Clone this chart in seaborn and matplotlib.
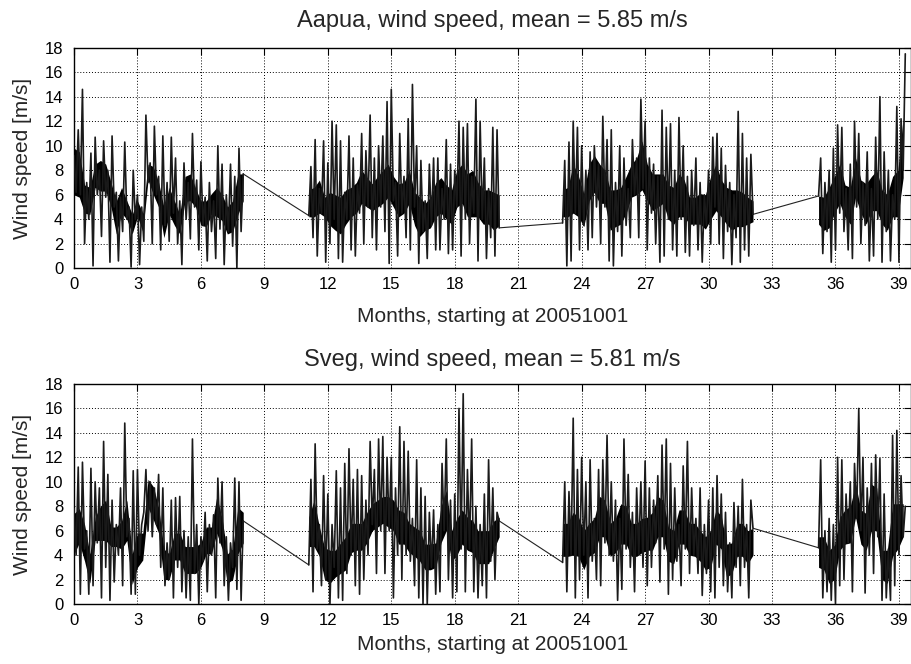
import numpy as np
import pandas as pd
import matplotlib
matplotlib.use("Agg")
import matplotlib.pyplot as plt
import seaborn as sns

# ---------------- data ----------------
STEP = 0.1        # months between samples of the spiky trace
CORE_STEP = 0.25  # months between samples of the dense core band

aapua_title = "Aapua, wind speed, mean = 5.85 m/s"
sveg_title = "Sveg, wind speed, mean = 5.81 m/s"
x_label = "Months, starting at 20051001"
y_label = "Wind speed [m/s]"
x_ticks = list(range(0, 40, 3))
y_ticks = list(range(0, 19, 2))

# segment start months (data gaps in between are joined by straight lines)
aapua_starts = [0.0, 11.1, 23.1, 35.2]
sveg_starts = [0.0, 11.1, 23.1, 35.2]

# ---- Aapua: spiky trace ----
aapua_seg1 = [9.2, 6.2, 11.3, 6.0, 14.6, 2.0, 7.0, 4.0, 9.4, 0.2,
              10.7, 6.0, 8.0, 2.6, 10.4, 5.8, 8.0, 0.5, 10.8, 5.0,
              6.2, 0.6, 5.8, 3.0, 10.3, 4.0, 5.0, 0.1, 8.0, 4.0,
              6.0, 0.3, 5.0, 2.2, 12.5, 7.0, 8.6, 2.0, 11.6, 6.0,
              7.5, 1.5, 10.8, 3.5, 7.0, 2.2, 10.7, 4.5, 9.0, 2.0,
              5.5, 0.3, 8.6, 4.0, 7.0, 2.4, 11.0, 5.0, 7.2, 1.5,
              8.7, 3.5, 5.8, 0.6, 7.0, 3.0, 5.5, 0.8, 10.0, 3.2,
              8.5, 0.3, 6.0, 3.0, 8.5, 1.8, 7.5, 0.0, 9.8, 3.0,
              7.7]
aapua_seg2 = [4.3, 8.3, 2.5, 10.5, 1.0, 6.5, 4.5, 10.4, 0.5, 8.6,
              2.0, 12.0, 4.0, 11.7, 0.8, 10.4, 0.5, 6.2, 4.0, 10.8,
              1.5, 9.0, 1.0, 6.8, 4.5, 11.0, 2.0, 9.6, 5.0, 12.5,
              2.5, 9.0, 1.5, 10.0, 5.0, 10.8, 3.0, 13.6, 0.4, 14.6,
              5.5, 7.0, 1.0, 11.0, 4.5, 7.5, 2.5, 12.2, 1.5, 15.0,
              5.0, 10.0, 0.4, 8.8, 3.0, 5.5, 0.8, 8.5, 3.5, 9.0,
              1.5, 9.0, 1.5, 6.5, 4.0, 10.5, 1.2, 8.5, 1.5, 8.0,
              5.0, 12.0, 1.0, 11.5, 4.0, 11.8, 2.0, 7.5, 4.5, 13.8,
              0.6, 12.0, 4.0, 9.0, 0.8, 6.5, 2.5, 11.5, 1.0, 11.3,
              3.3]
aapua_seg3 = [3.7, 8.8, 0.2, 10.3, 0.6, 12.0, 4.5, 11.5, 1.5, 10.0,
              3.5, 8.0, 1.5, 9.5, 2.5, 10.0, 5.0, 8.5, 2.0, 12.4,
              5.0, 10.5, 0.6, 11.3, 0.2, 7.0, 3.0, 10.0, 1.0, 9.0,
              3.5, 6.5, 2.5, 10.5, 6.0, 9.0, 2.5, 13.8, 6.5, 12.0,
              1.5, 9.0, 4.5, 8.5, 2.0, 7.5, 0.5, 12.9, 1.0, 11.5,
              4.0, 11.8, 1.5, 8.0, 1.0, 12.3, 4.0, 10.0, 1.3, 7.5,
              1.0, 8.0, 3.5, 9.0, 1.5, 7.0, 0.5, 6.0, 3.5, 8.0,
              2.0, 10.7, 5.0, 11.0, 2.0, 9.8, 0.8, 8.4, 3.0, 7.0,
              0.3, 6.0, 2.5, 12.8, 0.5, 11.0, 1.5, 9.0, 1.0, 9.3,
              4.4]
aapua_seg4 = [5.9, 9.0, 1.2, 7.0, 3.0, 8.0, 0.5, 9.8, 1.5, 11.7,
              4.5, 11.5, 3.0, 6.5, 1.5, 8.5, 0.8, 12.0, 5.0, 11.0,
              2.0, 7.0, 3.5, 9.5, 0.6, 6.5, 1.0, 10.7, 4.0, 14.0,
              0.5, 9.5, 3.0, 8.0, 0.6, 6.0, 4.0, 13.2, 0.5, 12.2,
              8.0, 17.5]

# ---- Aapua: dense core band (lower / upper edge) ----
aapua_core_lo = [
    [6.0, 5.8, 4.5, 4.4, 6.6, 6.3, 6.3, 5.0, 2.8, 4.5, 4.0, 2.8, 4.2, 3.0,
     7.2, 6.0, 5.0, 2.5, 4.4, 3.5, 2.8, 5.5, 5.5, 5.0, 3.5, 3.4, 4.4, 4.2,
     3.9, 2.8, 3.0, 4.4, 5.5],
    [4.2, 4.2, 4.5, 4.2, 3.5, 3.1, 2.8, 3.6, 4.2, 4.5, 5.3, 5.0, 4.7, 5.0,
     5.3, 5.8, 5.0, 4.2, 4.5, 5.3, 3.5, 2.6, 3.1, 3.3, 4.2, 4.5, 4.0, 3.6,
     5.0, 5.3, 4.2, 4.2, 4.2, 3.6, 3.6, 3.1, 3.5],
    [4.2, 4.2, 4.5, 4.2, 3.4, 5.5, 6.2, 5.3, 5.3, 3.1, 3.4, 3.6, 4.5, 5.8,
     6.0, 6.4, 5.5, 4.7, 5.0, 5.3, 4.0, 3.6, 4.2, 4.2, 3.6, 3.6, 3.6, 3.2,
     4.0, 4.7, 4.2, 3.6, 3.1, 3.4, 3.4, 3.6, 3.8],
    [3.6, 3.1, 3.3, 4.5, 5.3, 4.2, 3.6, 5.8, 4.5, 3.6, 4.7, 4.7, 3.6, 3.1,
     4.2, 4.2, 7.4],
]
aapua_core_hi = [
    [9.8, 9.5, 6.8, 6.6, 8.5, 8.8, 8.5, 7.0, 5.5, 6.6, 5.5, 4.4, 5.5, 4.5,
     8.5, 8.3, 7.0, 5.0, 6.6, 5.5, 4.4, 7.5, 7.7, 6.5, 5.5, 5.5, 6.1, 6.6,
     6.0, 5.0, 5.5, 7.7, 7.7],
    [6.4, 6.6, 7.2, 5.8, 6.2, 6.0, 5.8, 6.4, 6.6, 7.0, 8.0, 7.4, 6.9, 7.5,
     8.0, 8.5, 7.5, 6.9, 7.0, 8.0, 6.2, 5.8, 5.3, 5.8, 7.0, 7.4, 6.8, 6.4,
     8.0, 8.5, 7.7, 8.0, 7.0, 6.4, 6.4, 6.2, 6.0],
    [6.4, 6.6, 8.5, 7.5, 6.1, 8.5, 9.2, 8.5, 8.0, 6.4, 6.4, 6.6, 7.5, 8.5,
     9.0, 10.4, 8.5, 7.7, 7.7, 7.7, 6.8, 6.6, 7.7, 7.2, 5.8, 5.8, 6.1, 6.0,
     7.5, 8.5, 7.2, 6.6, 6.4, 6.4, 6.2, 5.8, 5.5],
    [5.9, 5.8, 6.6, 7.5, 8.5, 6.8, 6.6, 9.0, 7.2, 6.9, 7.5, 8.0, 6.4, 6.0,
     7.5, 8.0, 12.3],
]

# ---- Sveg: spiky trace ----
sveg_seg1 = [7.8, 4.0, 11.2, 0.8, 11.6, 4.5, 6.0, 0.8, 11.1, 1.5,
             10.0, 5.0, 9.5, 0.5, 13.3, 3.0, 10.6, 0.3, 8.5, 1.8,
             6.5, 4.0, 9.5, 1.5, 14.8, 5.5, 7.0, 0.8, 10.9, 0.8,
             11.0, 4.0, 6.5, 7.5, 11.0, 6.0, 10.0, 5.5, 9.5, 6.5,
             10.6, 3.0, 9.5, 1.5, 5.0, 2.0, 8.5, 0.5, 8.7, 3.0,
             8.8, 1.0, 6.0, 0.5, 5.5, 0.3, 13.5, 2.5, 6.5, 0.0,
             5.5, 3.5, 7.5, 1.0, 6.5, 4.0, 7.3, 0.5, 10.3, 5.0,
             10.0, 1.5, 5.5, 0.3, 5.0, 3.0, 10.3, 1.2, 10.0, 0.3,
             6.8]
sveg_seg2 = [3.2, 10.2, 1.0, 13.1, 4.5, 6.5, 1.5, 10.5, 2.0, 9.0,
             0.0, 6.5, 3.0, 10.9, 0.5, 9.5, 0.3, 11.5, 2.5, 12.7,
             4.0, 10.2, 1.5, 11.0, 0.8, 10.5, 2.0, 8.5, 4.0, 13.3,
             6.5, 11.0, 2.5, 13.5, 6.0, 13.7, 2.5, 12.0, 6.0, 12.0,
             0.5, 9.5, 4.0, 14.5, 2.0, 13.3, 4.0, 12.5, 3.5, 7.0,
             1.5, 11.8, 0.5, 9.5, 0.0, 8.8, 0.0, 7.5, 3.0, 7.7,
             0.8, 6.5, 1.0, 11.5, 6.0, 13.5, 2.0, 8.5, 0.5, 9.0,
             1.0, 16.0, 4.5, 17.2, 1.0, 11.0, 4.5, 13.5, 1.0, 8.0,
             0.5, 6.5, 1.5, 9.0, 0.5, 11.8, 3.5, 9.5, 2.0, 7.5,
             6.8]
sveg_seg3 = [3.4, 10.0, 1.0, 9.2, 4.0, 15.2, 0.5, 11.0, 2.0, 12.0,
             4.0, 10.0, 0.5, 11.8, 3.5, 7.0, 2.0, 11.0, 1.5, 11.8,
             5.0, 13.8, 4.0, 10.0, 3.5, 8.5, 0.3, 7.0, 1.2, 13.5,
             4.5, 10.6, 3.0, 7.5, 1.0, 9.5, 4.0, 10.0, 3.0, 11.7,
             1.5, 9.5, 3.0, 8.5, 5.0, 10.5, 1.8, 13.0, 4.5, 13.5,
             0.8, 11.5, 2.0, 9.5, 3.5, 6.5, 1.5, 11.3, 4.5, 13.3,
             2.5, 9.5, 4.0, 7.0, 2.5, 9.5, 0.7, 6.5, 2.5, 8.5,
             1.0, 9.5, 0.5, 10.5, 3.0, 9.0, 1.5, 7.5, 1.0, 5.0,
             0.5, 8.3, 3.0, 8.0, 1.5, 10.2, 3.0, 6.5, 0.5, 8.5,
             6.2]
sveg_seg4 = [4.6, 11.8, 0.5, 6.0, 1.0, 7.0, 0.3, 6.5, 0.0, 12.0,
             1.5, 11.8, 2.0, 9.0, 5.0, 10.0, 1.0, 11.5, 7.0, 16.0,
             6.0, 12.0, 0.9, 9.5, 4.0, 11.5, 2.5, 12.2, 5.5, 11.9,
             0.3, 9.0, 0.5, 4.5, 0.3, 13.8, 1.5, 14.2, 4.0, 10.5,
             5.5, 8.0]

# ---- Sveg: dense core band (lower / upper edge) ----
sveg_core_lo = [
    [4.1, 5.0, 3.5, 1.7, 5.2, 5.2, 5.2, 4.7, 4.7, 4.5, 5.2, 1.6, 3.0, 3.6,
     7.9, 6.9, 5.8, 2.0, 2.0, 3.6, 3.6, 2.5, 2.5, 2.5, 3.0, 4.1, 4.1, 5.8,
     4.5, 1.7, 2.0, 4.1, 5.0],
    [4.7, 4.7, 3.9, 2.0, 1.7, 2.2, 2.5, 2.8, 4.2, 4.4, 4.4, 5.0, 6.0, 6.3,
     6.6, 6.3, 6.0, 4.9, 4.9, 4.2, 3.9, 3.5, 2.8, 2.8, 3.0, 5.0, 6.0, 3.5,
     4.0, 4.9, 4.4, 4.2, 3.3, 3.3, 3.3, 4.5, 5.5],
    [3.9, 3.9, 4.0, 3.9, 2.8, 3.9, 4.2, 5.5, 5.5, 3.9, 4.2, 4.9, 4.9, 3.9,
     3.9, 4.2, 4.4, 4.4, 5.5, 5.5, 3.5, 3.3, 4.9, 4.9, 4.0, 3.9, 3.5, 2.8,
     3.0, 4.9, 4.5, 2.2, 2.5, 3.9, 3.9, 3.3, 4.0],
    [3.0, 2.8, 1.7, 2.0, 4.4, 4.9, 5.0, 7.1, 4.9, 4.4, 6.0, 6.0, 2.0, 1.7,
     3.9, 4.5, 5.5],
]
sveg_core_hi = [
    [7.4, 7.8, 6.5, 4.1, 7.1, 8.0, 8.5, 6.3, 6.3, 6.8, 8.5, 4.1, 5.8, 5.8,
     10.2, 9.6, 7.9, 4.5, 4.1, 5.8, 5.8, 4.7, 4.7, 4.7, 5.0, 6.3, 6.3, 8.8,
     7.0, 4.1, 4.5, 7.9, 7.5],
    [7.1, 8.5, 6.3, 4.6, 4.4, 4.4, 5.0, 5.5, 6.6, 6.6, 6.6, 7.5, 8.2, 8.5,
     8.8, 8.8, 8.5, 7.7, 7.5, 6.6, 6.3, 6.0, 4.9, 4.9, 5.0, 8.0, 9.3, 6.0,
     7.0, 7.7, 7.1, 6.8, 6.0, 6.0, 6.0, 6.8, 7.1],
    [6.6, 6.6, 7.5, 7.1, 6.0, 6.6, 7.0, 8.8, 8.5, 6.6, 7.0, 8.2, 8.0, 6.6,
     6.6, 7.0, 7.1, 7.5, 8.8, 8.5, 6.3, 6.0, 7.7, 7.7, 6.6, 6.6, 6.0, 5.5,
     6.0, 7.7, 7.2, 4.9, 5.0, 6.6, 6.6, 6.0, 6.2],
    [5.5, 5.5, 4.4, 4.8, 7.1, 7.7, 8.0, 9.8, 7.7, 7.4, 9.8, 9.5, 4.4, 4.4,
     8.2, 8.2, 8.2],
]

aapua_segments = [aapua_seg1, aapua_seg2, aapua_seg3, aapua_seg4]
sveg_segments = [sveg_seg1, sveg_seg2, sveg_seg3, sveg_seg4]


def build_frame(starts, segments):
    parts = []
    for k, (s, vals) in enumerate(zip(starts, segments)):
        parts.append(pd.DataFrame({
            "month": s + STEP * np.arange(len(vals)),
            "speed": vals,
            "seg": k,
        }))
    return pd.concat(parts, ignore_index=True)


def build_gaps(df):
    rows = []
    nseg = int(df["seg"].max()) + 1
    for k in range(nseg - 1):
        a = df[df["seg"] == k].iloc[-1]
        b = df[df["seg"] == k + 1].iloc[0]
        rows.append({"month": a["month"], "speed": a["speed"], "gap": k})
        rows.append({"month": b["month"], "speed": b["speed"], "gap": k})
    return pd.DataFrame(rows)


# ---------------- styling ----------------
sns.set_style("white")
plt.rcParams["font.family"] = ["Liberation Sans", "DejaVu Sans"]

W, H = 912, 664
fig = plt.figure(figsize=(W / 100, H / 100), dpi=100)
ax_left = 74 / W
ax_w = 837 / W
ax1 = fig.add_axes([ax_left, 1 - 268.3 / H, ax_w, 220.6 / H])
ax2 = fig.add_axes([ax_left, 1 - 604 / H, ax_w, 220 / H])

panels = [
    (ax1, aapua_starts, aapua_segments, aapua_core_lo, aapua_core_hi,
     aapua_title, 15, -0.242),
    (ax2, sveg_starts, sveg_segments, sveg_core_lo, sveg_core_hi,
     sveg_title, 13, -0.209),
]

for ax, starts, segs, core_lo, core_hi, title, tpad, xlab_y in panels:
    df = build_frame(starts, segs)
    gaps = build_gaps(df)
    # dense core of each segment
    for s, lo, hi in zip(starts, core_lo, core_hi):
        xc = s + CORE_STEP * np.arange(len(lo))
        ax.fill_between(xc, lo, hi, color="black", linewidth=0, zorder=2)
    sns.lineplot(data=gaps, x="month", y="speed", units="gap", ax=ax,
                 color="#222222", linewidth=0.8, estimator=None, sort=False,
                 legend=False, zorder=2)
    sns.lineplot(data=df, x="month", y="speed", units="seg", ax=ax,
                 color="#1a1a1a", linewidth=1.2, estimator=None, sort=False,
                 legend=False, zorder=3)
    ax.set_xlim(0, 39.57)
    ax.set_ylim(0, 18)
    ax.set_xticks(x_ticks)
    ax.set_yticks(y_ticks)
    ax.set_axisbelow(True)
    ax.grid(True, color="black", linestyle=(0, (1, 2)), linewidth=0.7)
    for sp in ax.spines.values():
        sp.set_color("black")
        sp.set_linewidth(1.0)
        sp.set_visible(True)
    ax.tick_params(axis="both", direction="in", length=5, width=0.8,
                   top=True, right=True, labelsize=12, colors="black")
    ax.tick_params(axis="x", pad=6.5)
    ax.tick_params(axis="y", pad=7.7)
    ax.set_title(title, fontsize=17, pad=tpad)
    ax.set_xlabel(x_label, fontsize=15)
    ax.set_ylabel(y_label, fontsize=15)
    ax.xaxis.set_label_coords(0.5, xlab_y)
    ax.xaxis.label.set_va("baseline")
    ax.yaxis.set_label_coords(-0.0615, 0.5)
    ax.yaxis.label.set_va("center")

fig.savefig("out.png", dpi=100, facecolor="white")
